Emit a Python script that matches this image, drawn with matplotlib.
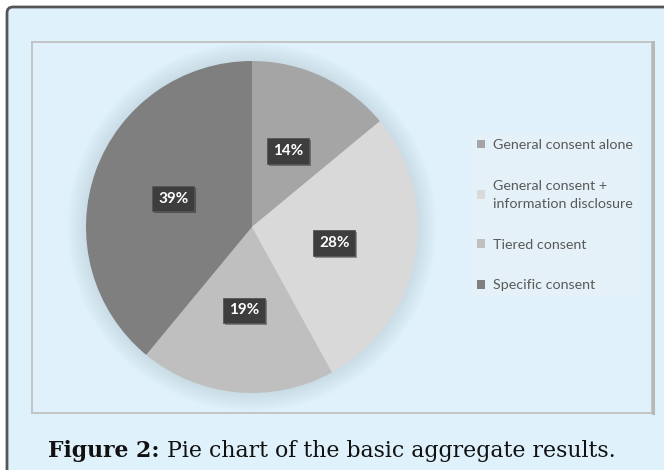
import matplotlib
matplotlib.use("Agg")
import matplotlib.pyplot as plt
from matplotlib.patches import FancyBboxPatch, Rectangle, Circle
import matplotlib.patheffects as pe

categories = ["General consent alone", "General consent +\ninformation disclosure",
              "Tiered consent", "Specific consent"]
values = [14, 28, 19, 39]
colors = ["#a5a5a5", "#d9d9d9", "#bfbfbf", "#7f7f7f"]
caption_bold = "Figure 2:"
caption_rest = " Pie chart of the basic aggregate results."

W, H = 664, 470
fig = plt.figure(figsize=(W / 100, H / 100), dpi=100)
fig.patch.set_facecolor("white")

# background / frame axes in pixel coordinates
bg = fig.add_axes([0, 0, 1, 1])
bg.set_xlim(0, W)
bg.set_ylim(H, 0)
bg.axis("off")
bg.add_patch(FancyBboxPatch((7, 7), W + 20, H + 20,
                            boxstyle="round,pad=0,rounding_size=6",
                            facecolor="#dff1fb", edgecolor="#555555", lw=2))
bg.add_patch(Rectangle((32, 42), 620, 371, facecolor="#e0f1fb",
                       edgecolor="#c3c3c3", lw=1.4))
bg.plot([652.5, 652.5], [42, 413], color="#b8b8b8", lw=2.2)

# pie
cx, cy, R = 252, 227, 166
L = 1.2
side = 2 * R * L
ax = fig.add_axes([(cx - R * L) / W, (H - cy - R * L) / H, side / W, side / H])
ax.set_xlim(-L, L)
ax.set_ylim(-L, L)
ax.set_aspect("equal")
ax.axis("off")

# soft shadow / glow around the pie
N = 20
for i in range(N):
    r = 1.0 + 0.0055 * (N - i)
    ax.add_patch(Circle((0, 0.0), r, facecolor="#a9c6d6", alpha=0.02,
                        edgecolor="none", zorder=0))

wedges, texts, autotexts = ax.pie(
    values, colors=colors, startangle=90, counterclock=False, radius=1.0,
    autopct=lambda p: f"{p:.0f}%", pctdistance=0.505,
    wedgeprops=dict(linewidth=0, zorder=2),
    textprops=dict(color="white", fontsize=11, fontweight="bold", family="Lato"))
ax.set_xlim(-L, L)
ax.set_ylim(-L, L)
for t in autotexts:
    t.set_zorder(5)
    t.set_bbox(dict(boxstyle="square,pad=0.38", facecolor="#3d3d3d",
                    edgecolor="#555555", lw=0.6))
    t.get_bbox_patch().set_path_effects(
        [pe.SimplePatchShadow(offset=(1.5, -1.5), shadow_rgbFace="#000000", alpha=0.35),
         pe.Normal()])

# legend
leg = fig.legend(wedges, categories, loc="upper left",
                 bbox_to_anchor=(472 / W, 1 - 134 / H),
                 frameon=True, fancybox=False, facecolor="#e5f1f8",
                 edgecolor="none", framealpha=1.0,
                 prop=dict(family="Lato", size=10.3),
                 handlelength=0.55, handleheight=0.55, handletextpad=0.6,
                 labelspacing=2.0, borderpad=0.35, borderaxespad=0)
for t in leg.get_texts():
    t.set_color("#595959")
    t.set_linespacing(1.65)

# caption (bold + regular parts)
fig.canvas.draw()
renderer = fig.canvas.get_renderer()
fam = "DejaVu Serif"
fs = 15.8
tb = fig.text(0, 0, caption_bold, fontsize=fs, fontweight="bold", family=fam)
tr = fig.text(0, 0, caption_rest, fontsize=fs, family=fam)
wb = tb.get_window_extent(renderer).width
wr = tr.get_window_extent(renderer).width
total = wb + wr
x0 = (W / 2 - total / 2)
ybase = 1 - 457 / H
tb.set_position((x0 / W, ybase))
tr.set_position(((x0 + wb) / W, ybase))
tb.set_color("#111111")
tr.set_color("#111111")

fig.savefig("out.png", dpi=100, facecolor="white")
